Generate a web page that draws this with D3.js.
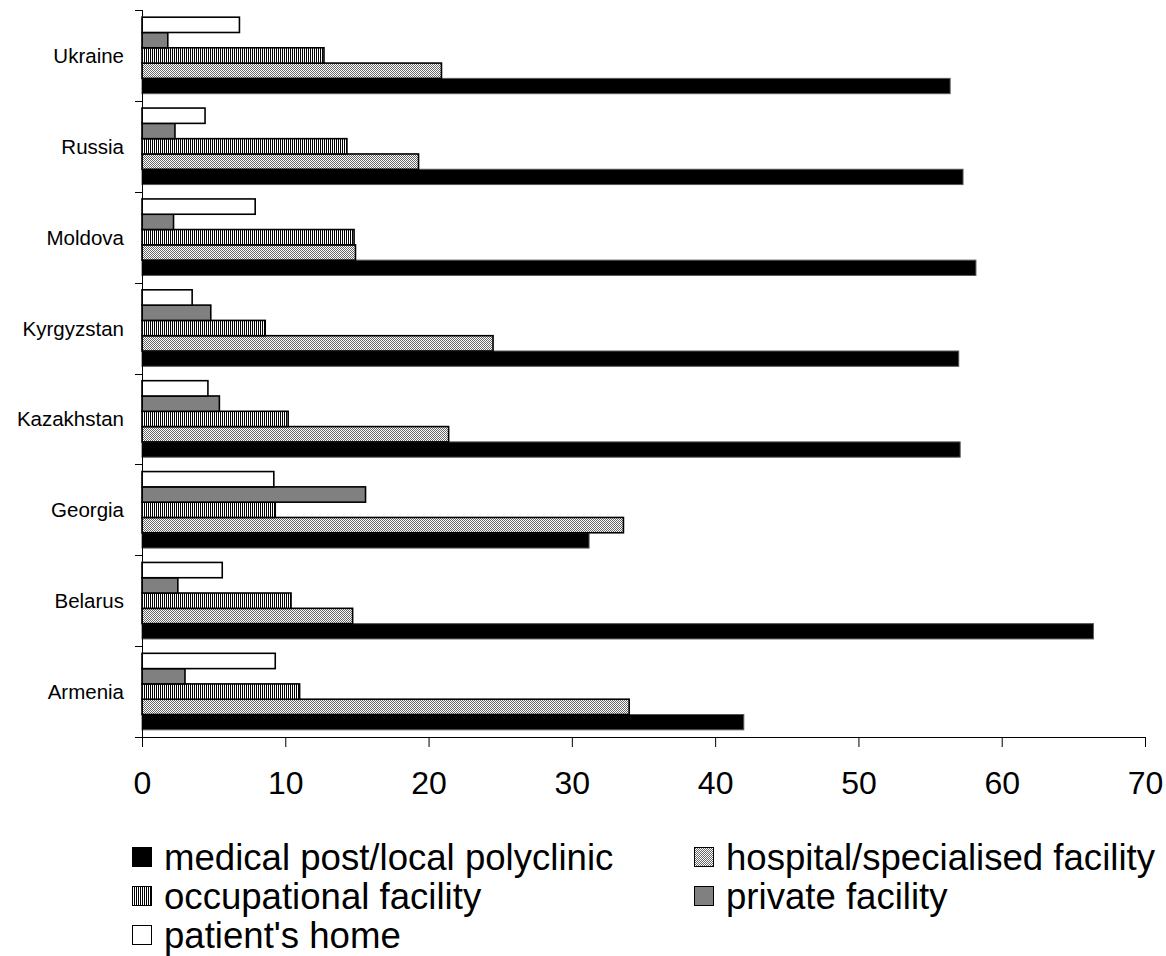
<!DOCTYPE html>
<html>
<head>
<meta charset="utf-8">
<script src="https://cdn.jsdelivr.net/npm/d3@7"></script>
<style>
  html, body { margin: 0; padding: 0; background: #fff; }
  svg { display: block; font-family: Arial, "Liberation Sans", sans-serif; }
</style>
</head>
<body>
<svg id="chart" width="1166" height="956"></svg>
<script>
// Countries, listed top to bottom
const countries = ["Ukraine", "Russia", "Moldova", "Kyrgyzstan", "Kazakhstan", "Georgia", "Belarus", "Armenia"];

// Share of visits by place (%), one array per place, in country order
const medicalPost  = [56.4, 57.3, 58.2, 57.0, 57.1, 31.2, 66.4, 42.0];
const hospital     = [20.9, 19.3, 14.9, 24.5, 21.4, 33.6, 14.7, 34.0];
const occupational = [12.7, 14.3, 14.8, 8.6, 10.2, 9.3, 10.4, 11.0];
const privateFac   = [1.8, 2.3, 2.2, 4.8, 5.4, 15.6, 2.5, 3.0];
const patientHome  = [6.8, 4.4, 7.9, 3.5, 4.6, 9.2, 5.6, 9.3];

const xTicks = [0, 10, 20, 30, 40, 50, 60, 70];

const seriesNames = [
  "medical post/local polyclinic",
  "hospital/specialised facility",
  "occupational facility",
  "private facility",
  "patient's home"
];
const seriesValues = [medicalPost, hospital, occupational, privateFac, patientHome];
// Bars inside each country group are stacked from the top in this order
const barOrder = ["patient's home", "private facility", "occupational facility",
                  "hospital/specialised facility", "medical post/local polyclinic"];

const svg = d3.select("#chart");
const defs = svg.append("defs");

// Fine checkered fill
const dots = defs.append("pattern").attr("id", "pDots")
  .attr("patternUnits", "userSpaceOnUse").attr("width", 2).attr("height", 2);
dots.append("rect").attr("width", 2).attr("height", 2).attr("fill", "#fff");
dots.append("rect").attr("x", 0).attr("y", 0).attr("width", 1).attr("height", 1).attr("fill", "#666");
dots.append("rect").attr("x", 1).attr("y", 1).attr("width", 1).attr("height", 1).attr("fill", "#666");

// Vertical stripes fill
const stripes = defs.append("pattern").attr("id", "pStripes")
  .attr("patternUnits", "userSpaceOnUse").attr("width", 2).attr("height", 4);
stripes.append("rect").attr("width", 2).attr("height", 4).attr("fill", "#fff");
stripes.append("rect").attr("width", 1).attr("height", 4).attr("fill", "#000");

const fills = {
  "medical post/local polyclinic": "#000",
  "hospital/specialised facility": "url(#pDots)",
  "occupational facility": "url(#pStripes)",
  "private facility": "#808080",
  "patient's home": "#fff"
};
const strokes = {
  "medical post/local polyclinic": "#555",
  "hospital/specialised facility": "#000",
  "occupational facility": "#000",
  "private facility": "#000",
  "patient's home": "#000"
};

const x = d3.scaleLinear().domain([0, 70]).range([142, 1145]);
const y = d3.scaleBand().domain(countries).range([10, 737]).padding(0);
const yInner = d3.scaleBand().domain(barOrder).range([0, y.bandwidth()])
  .paddingInner(0).paddingOuter(0.47);

const rows = [];
seriesNames.forEach((s, si) => {
  countries.forEach((c, ci) => rows.push({ country: c, series: s, value: seriesValues[si][ci] }));
});

svg.append("g").selectAll("rect").data(rows).join("rect")
  .attr("x", x(0))
  .attr("y", d => y(d.country) + yInner(d.series))
  .attr("width", d => x(d.value) - x(0))
  .attr("height", yInner.bandwidth())
  .attr("fill", d => fills[d.series])
  .attr("stroke", d => strokes[d.series])
  .attr("stroke-width", d => d.series === "medical post/local polyclinic" ? 1 : 1.6);

// X axis
const xAxis = svg.append("g").attr("transform", "translate(0,737)")
  .call(d3.axisBottom(x).tickValues(xTicks).tickFormat(d3.format("d")).tickSize(10).tickPadding(24));
xAxis.select(".domain").attr("stroke", "#000");
xAxis.selectAll(".tick line").attr("stroke", "#000");
xAxis.selectAll(".tick text").attr("font-size", 32).attr("fill", "#000")
  .attr("font-family", "Arial, 'Liberation Sans', sans-serif");

// Y axis: line with ticks at the group boundaries, labels at group centres
const yAxisG = svg.append("g");
yAxisG.append("line").attr("x1", 142.5).attr("x2", 142.5).attr("y1", 10).attr("y2", 737)
  .attr("stroke", "#000");
const boundaries = countries.map(c => y(c)).concat([y.range()[1]]);
yAxisG.selectAll("line.tick").data(boundaries).join("line").attr("class", "tick")
  .attr("x1", 135).attr("x2", 142.5)
  .attr("y1", d => Math.round(d) + 0.5).attr("y2", d => Math.round(d) + 0.5)
  .attr("stroke", "#000");
yAxisG.selectAll("text").data(countries).join("text")
  .attr("x", 124).attr("y", d => y(d) + y.bandwidth() / 2)
  .attr("text-anchor", "end").attr("dominant-baseline", "central")
  .attr("font-size", 20.5).attr("fill", "#000")
  .text(d => d);

// Legend
const legendPos = [
  { name: "medical post/local polyclinic", x: 132, y: 857 },
  { name: "hospital/specialised facility", x: 694, y: 857 },
  { name: "occupational facility", x: 132, y: 896 },
  { name: "private facility", x: 694, y: 896 },
  { name: "patient's home", x: 132, y: 935 }
];
const lg = svg.append("g").selectAll("g").data(legendPos).join("g")
  .attr("transform", d => `translate(${d.x},${d.y})`);
lg.append("rect").attr("x", 0.5).attr("y", -9.5).attr("width", 19).attr("height", 19)
  .attr("fill", d => fills[d.name]).attr("stroke", "#000").attr("stroke-width", 1);
lg.append("text").attr("x", 32).attr("y", 0).attr("dominant-baseline", "central")
  .attr("font-size", 36.6).attr("fill", "#000").text(d => d.name);
</script>
</body>
</html>
